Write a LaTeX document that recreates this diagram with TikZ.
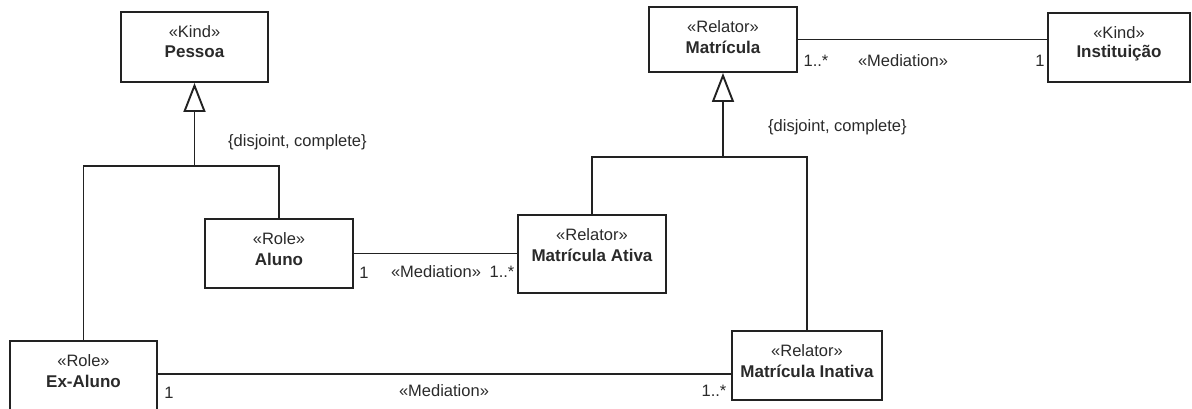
\documentclass[tikz,border=0pt]{standalone}
\usepackage{fontspec}
\setmainfont{Liberation Sans}
\usetikzlibrary{arrows.meta}
\definecolor{ink}{HTML}{222222}
\definecolor{txt}{HTML}{2A2A2A}
\begin{document}
\begin{tikzpicture}[x=1pt,y=-1pt,
  umlbox/.style={draw=ink, line width=1.9pt, fill=white, inner sep=0pt},
  stereo/.style={font=\fontsize{16.5}{19}\selectfont, text=txt, inner sep=0pt},
  cname/.style={font=\fontsize{17}{19}\selectfont\bfseries, text=txt, inner sep=0pt},
  lbl/.style={font=\fontsize{16.5}{19}\selectfont, text=txt, inner sep=0pt},
  conn/.style={draw=ink, line width=1.9pt},
  gen/.style={conn, -{Triangle[open, length=29pt, width=22pt, line width=1.9pt, fill=white]}}]
\useasboundingbox (0,0) rectangle (1192,409);
\clip (0,0) rectangle (1192,409);

% classes
\node[umlbox, minimum width=147pt, minimum height=70pt] (pessoa) at (194.5,47) {};
\node[umlbox, minimum width=148pt, minimum height=65pt] (matricula) at (723,39.5) {};
\node[umlbox, minimum width=142pt, minimum height=69pt] (instituicao) at (1119,47.5) {};
\node[umlbox, minimum width=148pt, minimum height=69pt] (aluno) at (279,253.5) {};
\node[umlbox, minimum width=148pt, minimum height=78pt] (ativa) at (592,254) {};
\node[umlbox, minimum width=147pt, minimum height=70pt] (exaluno) at (83.5,376) {};
\node[umlbox, minimum width=150pt, minimum height=69pt] (inativa) at (807,365.5) {};

% class texts: stereotype and name
\foreach \b/\s/\n in {pessoa/Kind/Pessoa, matricula/Relator/Matrícula,
    instituicao/Kind/Instituição, aluno/Role/Aluno, ativa/Relator/Matrícula Ativa,
    exaluno/Role/Ex-Aluno, inativa/Relator/Matrícula Inativa}{
  \node[stereo] (\b-st) at ([yshift=-21pt]\b.north) {«\s»};
  \node[cname] (\b-nm) at ([yshift=-41pt]\b.north) {\n};
}

% generalization sets
\coordinate (jp) at (pessoa.south |- 0,166);
\draw[conn] (exaluno.north) |- (jp) -| (aluno.north);
\draw[gen] (jp) -- (pessoa.south);
\node[lbl, anchor=west] (gs1) at (228,142) {\{disjoint, complete\}};

\coordinate (jm) at (matricula.south |- 0,157);
\draw[conn] (ativa.north) |- (jm) -| (inativa.north);
\draw[gen] (jm) -- (matricula.south);
\node[lbl, anchor=west] (gs2) at (768,127) {\{disjoint, complete\}};

% mediations
\draw[conn] (matricula.east) -- (instituicao.west |- matricula.east);
\node[lbl] (m1a) at (816,61) {1..*};
\node[lbl] (m1b) at (903,61) {«Mediation»};
\node[lbl] (m1c) at (1040,61) {1};

\draw[conn] (aluno.east) -- (ativa.west |- aluno.east);
\node[lbl] (m2a) at (364,273) {1};
\node[lbl] (m2b) at (436,272) {«Mediation»};
\node[lbl] (m2c) at (502,272) {1..*};

\draw[conn] (exaluno.east |- 0,374) -- (inativa.west |- 0,374);
\node[lbl] (m3a) at (169,393) {1};
\node[lbl] (m3b) at (444,391) {«Mediation»};
\node[lbl] (m3c) at (714,391) {1..*};
\end{tikzpicture}
\end{document}
